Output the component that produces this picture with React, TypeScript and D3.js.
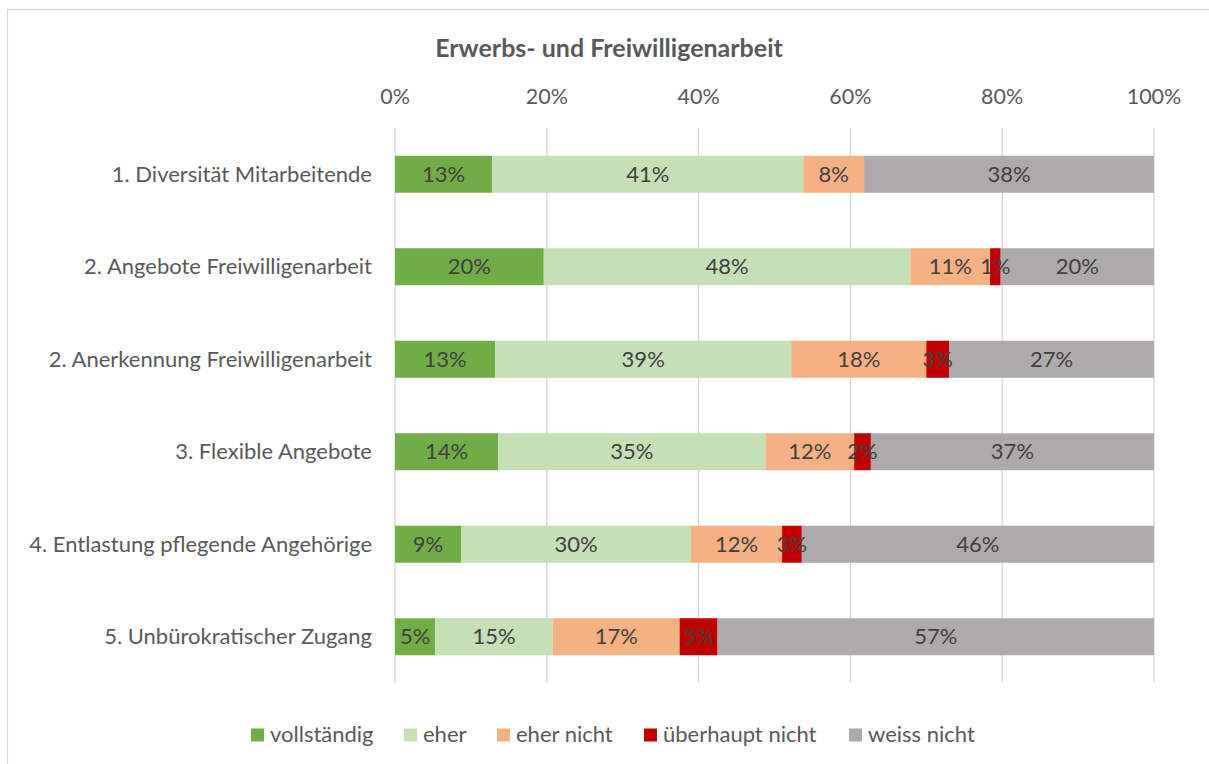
import React from "react";
import * as d3 from "d3";

const categories = [
  "1. Diversität Mitarbeitende",
  "2. Angebote Freiwilligenarbeit",
  "2. Anerkennung Freiwilligenarbeit",
  "3. Flexible Angebote",
  "4. Entlastung pflegende Angehörige",
  "5. Unbürokratischer Zugang",
];
const seriesNames = ["vollständig", "eher", "eher nicht", "überhaupt nicht", "weiss nicht"];
const colors = ["#70ad47", "#c5e0b4", "#f4b183", "#c00000", "#aeaaaa"];
const vollstaendig = [12.8, 19.6, 13.2, 13.6, 8.7, 5.3];
const eher = [41.0, 48.3, 39.0, 35.2, 30.3, 15.5];
const eherNicht = [8.0, 10.5, 17.8, 11.7, 12.0, 16.7];
const ueberhauptNicht = [0, 1.4, 3.0, 2.2, 2.6, 5.0];
const weissNicht = [38.2, 20.2, 27.0, 37.3, 46.4, 57.5];
const labels = [
  ["13%", "41%", "8%", "", "38%"],
  ["20%", "48%", "11%", "1%", "20%"],
  ["13%", "39%", "18%", "3%", "27%"],
  ["14%", "35%", "12%", "2%", "37%"],
  ["9%", "30%", "12%", "3%", "46%"],
  ["5%", "15%", "17%", "5%", "57%"],
];
const ticks = [0, 20, 40, 60, 80, 100];

const FONT = "Lato, 'Open Sans', sans-serif";

export default function App() {
  const W = 1209, H = 764;
  const x = d3.scaleLinear().domain([0, 100]).range([395, 1154]);
  const y = d3.scaleBand<string>().domain(categories).range([128, 683]).paddingInner(0.6).paddingOuter(0.3);
  const series = [vollstaendig, eher, eherNicht, ueberhauptNicht, weissNicht];
  const rows = categories.map((c, i) => {
    const vals = series.map((s) => s[i]);
    let acc = 0;
    return vals.map((v, k) => {
      const seg = { x0: acc, x1: acc + v, k, label: labels[i][k] };
      acc += v;
      return seg;
    });
  });
  const legendX = [251, 404, 497, 644, 849];
  return (
    <svg width={W} height={H} style={{ position: "absolute", left: 0, top: 0 }} fontFamily={FONT}>
      <rect x={0} y={0} width={W} height={H} fill="#fff" />
      <rect x={7.5} y={9.5} width={W} height={H} fill="none" stroke="#d9d9d9" strokeWidth={1.3} />
      <text x={609} y={57} textAnchor="middle" fontSize={25} fontWeight="bold" fill="#595959">
        Erwerbs- und Freiwilligenarbeit
      </text>
      {ticks.map((t) => (
        <g key={t}>
          <line x1={x(t)} x2={x(t)} y1={128} y2={683} stroke="#d9d9d9" strokeWidth={1.3} />
          <text x={x(t)} y={104} textAnchor="middle" fontSize={21.5} fill="#595959">
            {t}%
          </text>
        </g>
      ))}
      {categories.map((c, i) => (
        <g key={c}>
          <text x={372} y={(y(c) as number) + y.bandwidth() / 2 + 7.5} textAnchor="end" fontSize={22} fill="#595959">
            {c}
          </text>
          {rows[i].map((s) =>
            s.x1 - s.x0 > 0 ? (
              <rect key={s.k} x={x(s.x0)} y={y(c)} width={x(s.x1) - x(s.x0)} height={y.bandwidth()} fill={colors[s.k]} />
            ) : null
          )}
          {rows[i].map((s) =>
            s.label ? (
              <text
                key={"t" + s.k}
                x={x((s.x0 + s.x1) / 2)}
                y={(y(c) as number) + y.bandwidth() / 2 + 7.5}
                textAnchor="middle"
                fontSize={22}
                fill="#404040"
              >
                {s.label}
              </text>
            ) : null
          )}
        </g>
      ))}
      {seriesNames.map((n, k) => (
        <g key={n}>
          <rect x={legendX[k]} y={728.5} width={13} height={13} fill={colors[k]} />
          <text x={legendX[k] + 19} y={742} fontSize={22} fill="#595959">
            {n}
          </text>
        </g>
      ))}
    </svg>
  );
}
